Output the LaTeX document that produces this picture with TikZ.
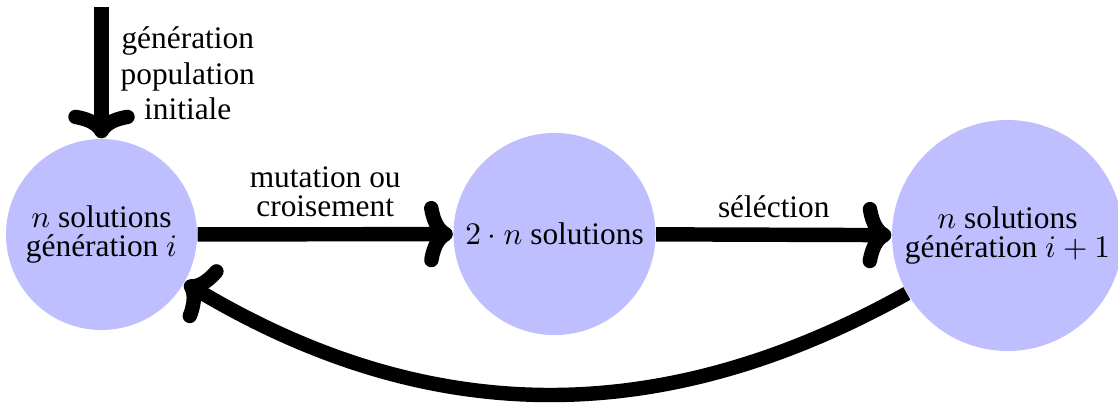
\documentclass[tikz,border=0pt]{standalone}
\usepackage[no-math]{fontspec}
\setmainfont{Liberation Serif}
\usetikzlibrary{arrows.meta}
\begin{document}
\begin{tikzpicture}[x=0.3186pt,y=-0.3186pt,
  state/.style={circle, fill=blue!25, inner sep=0pt, align=center,
    font=\fontsize{10}{9.4}\selectfont},
  flow/.style={line width=4.6pt, -{To[scale length=0.78, scale width=0.86]}},
  lbl/.style={align=center, inner sep=0pt, font=\fontsize{10}{9.4}\selectfont},
  toplbl/.style={align=center, inner sep=0pt, font=\fontsize{10}{11.4}\selectfont}]
\useasboundingbox (0,0) rectangle (1118,403);
\node[state, minimum size=60.85pt] (A) at (101.5,234.5) {$n$ solutions\\génération $i$};
\node[state, minimum size=64.4pt] (B) at (554.5,234) {$2\cdot n$ solutions};
\node[state, minimum size=73.6pt] (C) at (1007.5,235.5) {$n$ solutions\\génération $i+1$};
\coordinate (start) at (101.5,7);
\draw[flow] (start) -- node[toplbl, right=3.8pt, yshift=-0.2pt] {génération\\population\\initiale} (A.north);
\draw[flow] (A) -- node[lbl, above=3.2pt] {mutation ou\\croisement} (B);
\draw[flow] (B) -- node[lbl, above=3.2pt] {séléction} (C);
\draw[flow] (C) to[bend left=30] (A);
\end{tikzpicture}
\end{document}
